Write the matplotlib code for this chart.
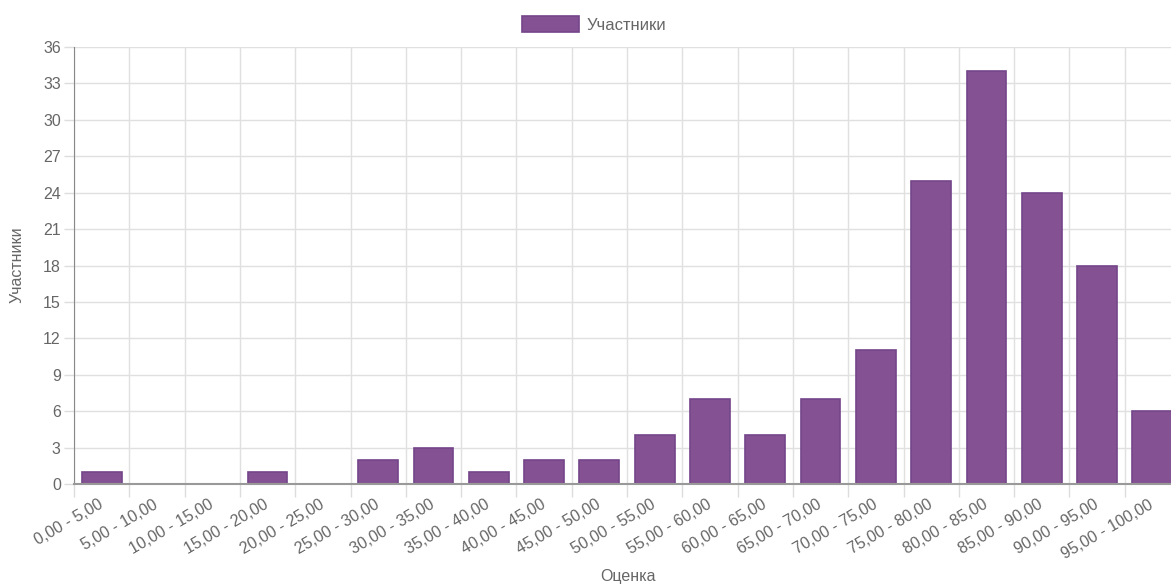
import matplotlib
matplotlib.use("Agg")
import matplotlib.pyplot as plt
import numpy as np

plt.rcParams['font.family'] = ['Liberation Sans', 'DejaVu Sans']

categories = ["0,00 - 5,00", "5,00 - 10,00", "10,00 - 15,00", "15,00 - 20,00",
              "20,00 - 25,00", "25,00 - 30,00", "30,00 - 35,00", "35,00 - 40,00",
              "40,00 - 45,00", "45,00 - 50,00", "50,00 - 55,00", "55,00 - 60,00",
              "60,00 - 65,00", "65,00 - 70,00", "70,00 - 75,00", "75,00 - 80,00",
              "80,00 - 85,00", "85,00 - 90,00", "90,00 - 95,00", "95,00 - 100,00"]
participants = [1, 0, 0, 1, 0, 2, 3, 1, 2, 2, 4, 7, 4, 7, 11, 25, 34, 24, 18, 6]
yticks = list(range(0, 37, 3))

W, H = 1171, 586
fig = plt.figure(figsize=(W / 100, H / 100), dpi=100)
x0, x1, y0, y1 = 74, 1180, 484, 47
ax = fig.add_axes([x0 / W, (H - y0) / H, (x1 - x0) / W, (y0 - y1) / H])

fill = '#845193'
edge = '#74458a'
text_c = '#666666'
fs = 11.5

x = np.arange(len(categories))
ax.bar(x, participants, width=0.72, color=fill, edgecolor=edge, linewidth=1.2,
       label='Участники', zorder=3)

ax.set_xlim(-0.5, len(categories) - 0.5)
ax.set_ylim(0, 36)
ax.set_yticks(yticks)
ax.set_yticklabels([str(v) for v in yticks], fontsize=fs, color=text_c)

ax.set_xticks(x)
ax.set_xticklabels(categories, rotation=30, ha='right', va='center',
                   rotation_mode='anchor', fontsize=fs, color=text_c)
ax.set_xticks(np.arange(len(categories) + 1) - 0.5, minor=True)
ax.tick_params(axis='x', which='major', length=0, pad=14)
ax.tick_params(axis='x', which='minor', length=9, color='#dddddd', width=1)
ax.tick_params(axis='y', length=7.5, color='#dddddd', width=1, pad=2)

ax.grid(False)
ax.grid(True, axis='x', which='minor', color='#e0e0e0', linewidth=1, zorder=0)
ax.grid(True, axis='y', which='major', color='#e0e0e0', linewidth=1, zorder=0)

for s in ['top', 'right']:
    ax.spines[s].set_visible(False)
ax.spines['left'].set_color('#888888')
ax.spines['bottom'].set_color('#999999')
ax.spines['bottom'].set_linewidth(1.5)
ax.spines['bottom'].set_zorder(4)

ax.set_xlabel('Оценка', fontsize=fs, color=text_c, va='center')
ax.set_ylabel('Участники', fontsize=fs, color=text_c, va='center')
ax.xaxis.set_label_coords((628 - x0) / (x1 - x0), -(577 - y0) / (y0 - y1))
ax.yaxis.set_label_coords(-(74 - 17) / (x1 - x0), (y0 - 265) / (y0 - y1))

leg = fig.legend(loc='center', bbox_to_anchor=(594 / W, 1 - 24.5 / H), frameon=False,
                 prop={'size': 12}, handlelength=3.4, handleheight=1.05,
                 handletextpad=0.45, labelcolor=text_c)

fig.savefig('out.png', dpi=100)
